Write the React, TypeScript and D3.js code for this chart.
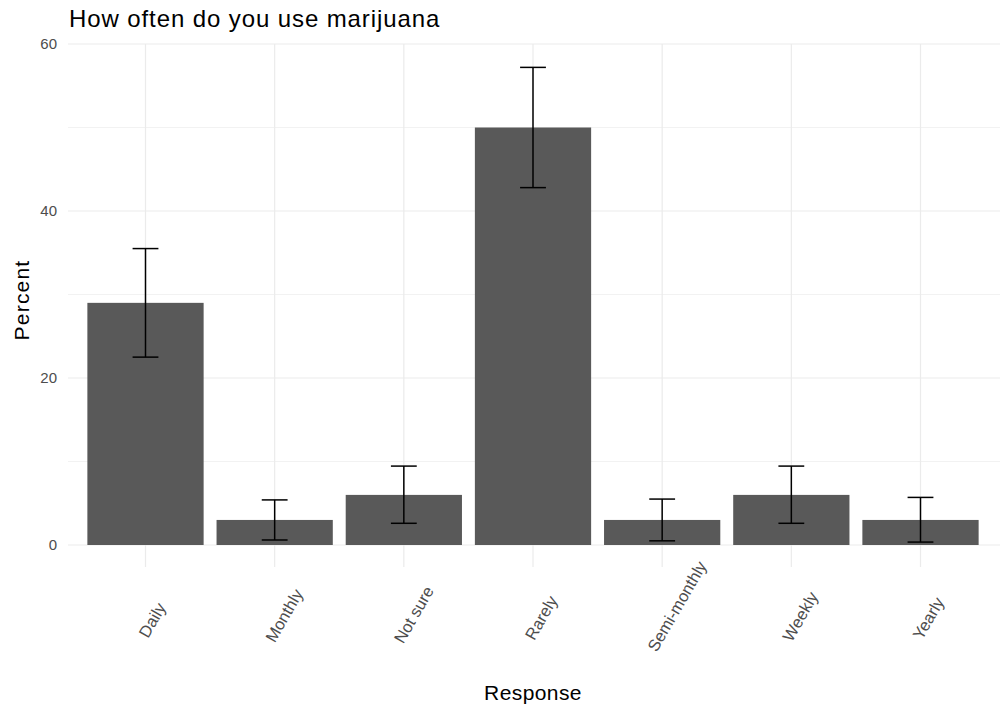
import React, { useEffect, useRef } from "react";
import * as d3 from "d3";

const categories = ["Daily", "Monthly", "Not sure", "Rarely", "Semi-monthly", "Weekly", "Yearly"];
const percent = [29, 3, 6, 50, 3, 6, 3];
const lower = [22.5, 0.6, 2.6, 42.8, 0.5, 2.6, 0.35];
const upper = [35.5, 5.4, 9.45, 57.2, 5.5, 9.45, 5.7];
const yTicks = [0, 20, 40, 60];
const yMinor = [10, 30, 50];

const W = 1005;
const H = 719;
const FONT = "'Liberation Sans', Arial, sans-serif";

export default function App() {
  const ref = useRef<SVGSVGElement>(null);

  useEffect(() => {
    const svg = d3.select(ref.current);
    svg.selectAll("*").remove();

    const left = 68, right = 998, gridRight = 1000;
    const panelTop = 44, panelBottom = 567;
    const step = (right - left) / (categories.length + 0.2);
    const cx = (i: number) => left + step * (0.6 + i);
    const barW = step * 0.9;
    const y = d3.scaleLinear().domain([0, 60]).range([545, 44]);

    const g = svg.append("g");

    g.selectAll(".minor").data(yMinor).join("line")
      .attr("x1", left).attr("x2", gridRight)
      .attr("y1", (d) => y(d)).attr("y2", (d) => y(d))
      .attr("stroke", "#efefef").attr("stroke-width", 0.8);
    g.selectAll(".major").data(yTicks).join("line")
      .attr("x1", left).attr("x2", gridRight)
      .attr("y1", (d) => y(d)).attr("y2", (d) => y(d))
      .attr("stroke", "#ebebeb").attr("stroke-width", 1.2);
    g.selectAll(".vgrid").data(categories).join("line")
      .attr("x1", (_, i) => cx(i)).attr("x2", (_, i) => cx(i))
      .attr("y1", panelTop).attr("y2", panelBottom)
      .attr("stroke", "#ebebeb").attr("stroke-width", 1.2);

    g.selectAll(".bar").data(percent).join("rect")
      .attr("x", (_, i) => cx(i) - barW / 2)
      .attr("width", barW)
      .attr("y", (d) => y(d))
      .attr("height", (d) => y(0) - y(d))
      .attr("fill", "#595959");

    const capW = step * 0.2;
    categories.forEach((c, i) => {
      const xc = cx(i);
      const eg = g.append("g").attr("stroke", "#000").attr("stroke-width", 1.5);
      eg.append("line").attr("x1", xc).attr("x2", xc).attr("y1", y(lower[i])).attr("y2", y(upper[i]));
      eg.append("line").attr("x1", xc - capW / 2).attr("x2", xc + capW / 2).attr("y1", y(lower[i])).attr("y2", y(lower[i]));
      eg.append("line").attr("x1", xc - capW / 2).attr("x2", xc + capW / 2).attr("y1", y(upper[i])).attr("y2", y(upper[i]));
    });

    g.selectAll(".ylab").data(yTicks).join("text")
      .attr("x", 57).attr("y", (d) => y(d))
      .attr("dy", "0.36em")
      .attr("text-anchor", "end")
      .attr("font-family", FONT).attr("font-size", 15)
      .attr("fill", "#4d4d4d")
      .text((d) => String(d));

    categories.forEach((c, i) => {
      const ax = cx(i) + 2, ay = 628;
      const t = g.append("text")
        .attr("font-family", FONT).attr("font-size", 16.5)
        .attr("fill", "#4d4d4d")
        .attr("text-anchor", "start")
        .attr("dominant-baseline", "central")
        .attr("transform", `translate(${ax},${ay}) rotate(-60)`)
        .text(c);
      const w = (t.node() as SVGTextElement).getComputedTextLength();
      t.attr("x", -0.25 * w);
    });

    svg.append("text")
      .attr("x", 69).attr("y", 27)
      .attr("font-family", FONT).attr("font-size", 24)
      .attr("letter-spacing", 0.9)
      .attr("fill", "#000")
      .text("How often do you use marijuana");

    svg.append("text")
      .attr("x", (left + right) / 2).attr("y", 700)
      .attr("text-anchor", "middle")
      .attr("font-family", FONT).attr("font-size", 21)
      .attr("letter-spacing", 0.4)
      .attr("fill", "#000")
      .text("Response");

    svg.append("text")
      .attr("transform", `translate(29,300) rotate(-90)`)
      .attr("text-anchor", "middle")
      .attr("font-family", FONT).attr("font-size", 21)
      .attr("letter-spacing", 1.2)
      .attr("fill", "#000")
      .text("Percent");
  }, []);

  return (
    <svg
      ref={ref}
      width={W}
      height={H}
      style={{ position: "absolute", left: 0, top: 0, background: "#fff" }}
    />
  );
}
